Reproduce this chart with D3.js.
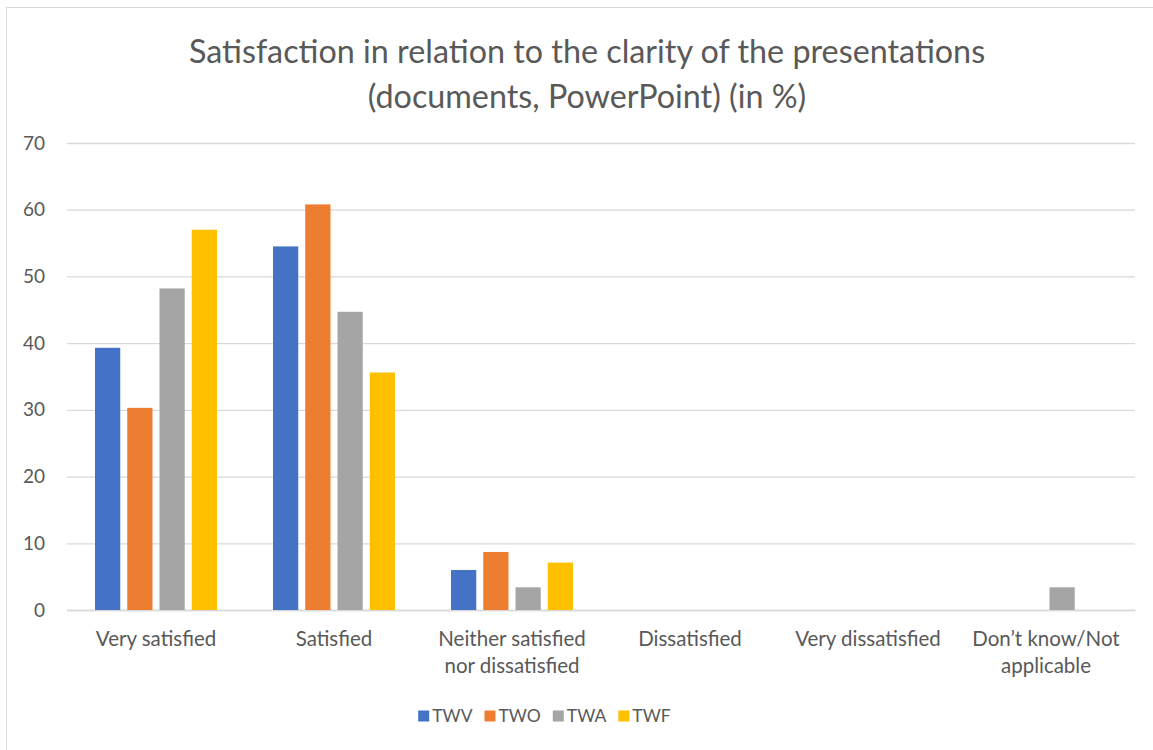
<!DOCTYPE html>
<html>
<head>
<meta charset="utf-8">
<script src="https://cdn.jsdelivr.net/npm/d3@7"></script>
<style>
  body { margin: 0; background: #fff; }
  text { font-family: Lato, "Open Sans", sans-serif; fill: #595959; }
</style>
</head>
<body>
<div id="chart"></div>
<script>
// Data
const categories = ["Very satisfied", "Satisfied", "Neither satisfied nor dissatisfied", "Dissatisfied", "Very dissatisfied", "Don\u2019t know/Not applicable"];
const seriesNames = ["TWV", "TWO", "TWA", "TWF"];
const colors = ["#4472c4", "#ed7d31", "#a5a5a5", "#ffc000"];
const TWV = [39.3, 54.5, 6.0, 0, 0, 0];
const TWO = [30.3, 60.8, 8.7, 0, 0, 0];
const TWA = [48.2, 44.7, 3.4, 0, 0, 3.4];
const TWF = [57.0, 35.6, 7.1, 0, 0, 0];
const yTicks = [0, 10, 20, 30, 40, 50, 60, 70];
const titleLines = ["Satisfaction in relation to the clarity of the presentations", "(documents, PowerPoint) (in %)"];

class GroupedBarChart {
  constructor(_config) {
    this.config = {
      parentElement: _config.parentElement,
      width: 1153,
      height: 750,
      margin: { top: 143, bottom: 140, right: 18, left: 67 }
    };
    this.initVis();
  }

  initVis() {
    const vis = this;
    const m = vis.config.margin;
    vis.innerWidth = vis.config.width - m.left - m.right;
    vis.innerHeight = vis.config.height - m.top - m.bottom;

    vis.svgRoot = d3.select(vis.config.parentElement)
      .append("svg")
      .attr("width", vis.config.width)
      .attr("height", vis.config.height);

    // chart area border
    vis.svgRoot.append("rect")
      .attr("x", 6.5).attr("y", 7.5)
      .attr("width", 1160).attr("height", 800)
      .attr("fill", "none")
      .attr("stroke", "#d9d9d9");

    vis.svg = vis.svgRoot.append("g")
      .attr("transform", `translate(${m.left},${m.top})`);

    vis.xScale = d3.scaleBand().domain(categories).range([0, vis.innerWidth]);
    const groupPad = (vis.xScale.bandwidth() - 122) / 2;
    vis.xInner = d3.scaleBand().domain(seriesNames)
      .range([groupPad, vis.xScale.bandwidth() - groupPad])
      .paddingInner(0.217);
    vis.yScale = d3.scaleLinear().domain([0, 70]).range([vis.innerHeight, 0]);
    vis.color = d3.scaleOrdinal().domain(seriesNames).range(colors);

    vis.data = categories.map((c, i) => ({
      category: c,
      values: [TWV[i], TWO[i], TWA[i], TWF[i]].map((v, j) => ({ key: seriesNames[j], value: v }))
    }));

    vis.updateVis();
  }

  updateVis() {
    const vis = this;
    vis.renderTitle();
    vis.renderAxes();
    vis.renderBars();
    vis.renderLegend();
  }

  renderTitle() {
    const vis = this;
    vis.svgRoot.selectAll("text.title")
      .data(titleLines)
      .join("text")
      .attr("class", "title")
      .attr("x", 587)
      .attr("y", (d, i) => 63 + i * 45)
      .attr("text-anchor", "middle")
      .style("font-size", "32.3px")
      .text(d => d);
  }

  renderAxes() {
    const vis = this;
    const yAxis = d3.axisLeft(vis.yScale)
      .tickValues(yTicks)
      .tickSize(-vis.innerWidth)
      .tickPadding(22);
    vis.svg.append("g")
      .attr("class", "y-axis")
      .call(yAxis)
      .call(g => g.select(".domain").remove())
      .call(g => g.selectAll(".tick line").attr("stroke", "#d9d9d9").attr("stroke-width", 1.3))
      .call(g => g.selectAll(".tick text").style("font-size", "19px").attr("fill", "#595959"));

    const xAxis = d3.axisBottom(vis.xScale).tickSize(0).tickPadding(21);
    vis.svg.append("g")
      .attr("class", "x-axis")
      .attr("transform", `translate(0,${vis.innerHeight})`)
      .call(xAxis)
      .call(g => g.select(".domain").attr("stroke", "#d9d9d9").attr("stroke-width", 1.3))
      .call(g => g.selectAll(".tick text").style("font-size", "20.5px").attr("fill", "#595959")
        .call(vis.wrap, 165));
  }

  wrap(texts, width) {
    texts.each(function () {
      const text = d3.select(this);
      const words = text.text().split(/\s+/);
      const y = text.attr("y");
      text.text(null);
      let line = [];
      let lineNo = 0;
      let tspan = text.append("tspan").attr("x", 0).attr("y", y).attr("dy", "0.71em");
      words.forEach(w => {
        line.push(w);
        tspan.text(line.join(" "));
        if (tspan.node().getComputedTextLength() > width && line.length > 1) {
          line.pop();
          tspan.text(line.join(" "));
          line = [w];
          lineNo++;
          tspan = text.append("tspan").attr("x", 0).attr("y", y)
            .attr("dy", `${0.71 + lineNo * 1.32}em`).text(w);
        }
      });
    });
  }

  renderBars() {
    const vis = this;
    const groups = vis.svg.selectAll("g.group")
      .data(vis.data)
      .join("g")
      .attr("class", "group")
      .attr("transform", d => `translate(${vis.xScale(d.category)},0)`);

    groups.selectAll("rect.bar")
      .data(d => d.values.filter(v => v.value > 0))
      .join("rect")
      .attr("class", "bar")
      .attr("x", d => vis.xInner(d.key))
      .attr("width", vis.xInner.bandwidth())
      .attr("y", d => vis.yScale(d.value))
      .attr("height", d => vis.innerHeight - vis.yScale(d.value))
      .attr("fill", d => vis.color(d.key));
  }

  renderLegend() {
    const vis = this;
    const legend = vis.svgRoot.append("g")
      .attr("class", "legend")
      .attr("transform", "translate(436,716)");
    let xOff = 0;
    seriesNames.forEach(name => {
      const item = legend.append("g").attr("transform", `translate(${xOff},0)`);
      item.append("rect")
        .attr("x", 0).attr("y", -5.5)
        .attr("width", 11).attr("height", 11)
        .attr("fill", vis.color(name));
      const t = item.append("text")
        .attr("x", 14).attr("y", 0).attr("dy", "0.35em")
        .style("font-size", "17.5px")
        .text(name);
      xOff += 14 + t.node().getComputedTextLength() + 12;
    });
    const bbox = legend.node().getBBox();
    legend.attr("transform", `translate(${544.5 - bbox.width / 2},716)`);
  }
}

new GroupedBarChart({ parentElement: "#chart" });
</script>
</body>
</html>
